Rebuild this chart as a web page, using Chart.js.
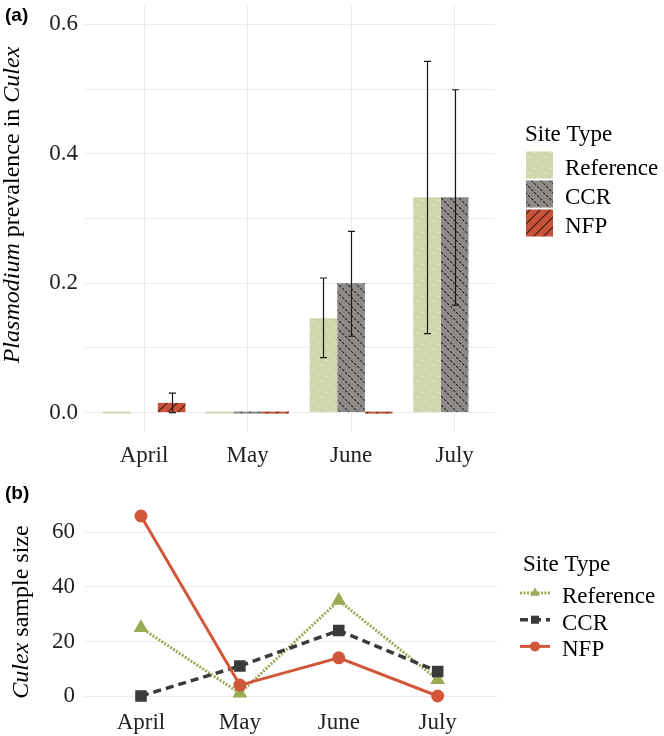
<!DOCTYPE html>
<html>
<head>
<meta charset="utf-8">
<script src="https://cdn.jsdelivr.net/npm/chart.js@4.4.1/dist/chart.umd.min.js"></script>
<style>
  html, body { margin: 0; padding: 0; background: #fff; }
  #wrap { position: relative; width: 664px; height: 736px; }
  canvas { position: absolute; left: 0; }
  #prevChart { top: 0; }
  #sizeChart { top: 470px; }
</style>
</head>
<body>
<div id="wrap">
  <canvas id="prevChart" width="664" height="470"></canvas>
  <canvas id="sizeChart" width="664" height="266"></canvas>
</div>
<script>
const months = ['April', 'May', 'June', 'July'];
const legendTitle = 'Site Type';

// (a) Plasmodium prevalence, null = no mosquitoes caught
const prevReference = [0, 0, 0.146, 0.333];
const prevCCR = [null, 0, 0.2, 0.333];
const prevNFP = [0.015, 0, 0, null];
const lowReference = [null, null, 0.085, 0.122];
const highReference = [null, null, 0.208, 0.543];
const lowCCR = [null, null, 0.118, 0.166];
const highCCR = [null, null, 0.280, 0.499];
const lowNFP = [0, null, null, null];
const highNFP = [0.030, null, null, null];
const prevTicks = [0, 0.2, 0.4, 0.6];

// (b) Culex sample size
const sizeReference = [25, 1, 35, 6];
const sizeCCR = [0, 11, 24, 9];
const sizeNFP = [66, 4, 14, 0];
const sizeTicks = [0, 20, 40, 60];

const serif = '"Liberation Serif", "Times New Roman", serif';
const tickFont = { family: serif, size: 23 };
const gridColor = '#ebebeb';

const toXY = arr => arr.map((v, i) => ({ x: i + 1, y: v }));

// keep chart area exactly where layout padding puts it
const fixWidth = w => s => { s.width = w; s.paddingTop = 0; s.paddingBottom = 0; };
const fixHeight = h => s => { s.height = h; s.paddingLeft = 0; s.paddingRight = 0; };

function makePattern(size, draw) {
    const c = document.createElement('canvas');
    c.width = c.height = size;
    const g = c.getContext('2d');
    draw(g, size);
    return g.createPattern(c, 'repeat');
}

const patReference = makePattern(16, (g, s) => {
    g.fillStyle = '#d0d6ac';
    g.fillRect(0, 0, s, s);
    g.fillStyle = 'rgba(250,250,235,0.85)';
    [[2, 3], [9, 1], [6, 8], [12, 11], [3, 13], [14, 5]].forEach(p => g.fillRect(p[0], p[1], 1, 1));
});
const patCCR = makePattern(9, (g, s) => {
    g.fillStyle = '#8e8a88';
    g.fillRect(0, 0, s, s);
    g.fillStyle = '#2a2a2a';
    for (let k = 0; k < s; k++) {
        if (k % 3 !== 2) g.fillRect(k, k, 1.2, 1.2);
    }
});
const patNFP = makePattern(10, (g, s) => {
    g.fillStyle = '#c8523a';
    g.fillRect(0, 0, s, s);
    g.strokeStyle = '#3d1a12';
    g.lineWidth = 1.1;
    [-s, 0, s].forEach(o => {
        g.beginPath();
        g.moveTo(o - 1, s + 1);
        g.lineTo(o + s + 1, -1);
        g.stroke();
    });
});

const errorBars = {
    id: 'errorBars',
    afterDatasetsDraw(chart) {
        const ctx = chart.ctx;
        const y = chart.scales.y;
        ctx.save();
        ctx.strokeStyle = '#1a1a1a';
        ctx.lineWidth = 1.2;
        chart.data.datasets.forEach((ds, d) => {
            if (!ds.errLow) return;
            const meta = chart.getDatasetMeta(d);
            ds.errLow.forEach((lo, i) => {
                const hi = ds.errHigh[i];
                if (lo == null || hi == null || !meta.data[i]) return;
                const x = Math.round(meta.data[i].x) + 0.5;
                const y0 = y.getPixelForValue(lo);
                const y1 = y.getPixelForValue(hi);
                ctx.beginPath();
                ctx.moveTo(x, y0); ctx.lineTo(x, y1);
                ctx.moveTo(x - 3.5, y0); ctx.lineTo(x + 3.5, y0);
                ctx.moveTo(x - 3.5, y1); ctx.lineTo(x + 3.5, y1);
                ctx.stroke();
            });
        });
        ctx.restore();
    }
};

function drawMarker(ctx, style, x, y, r, color) {
    ctx.fillStyle = color;
    ctx.beginPath();
    if (style === 'triangle') {
        let a = 0;
        ctx.moveTo(x + Math.sin(a) * r, y - Math.cos(a) * r);
        a += 2 * Math.PI / 3;
        ctx.lineTo(x + Math.sin(a) * r, y - Math.cos(a) * r);
        a += 2 * Math.PI / 3;
        ctx.lineTo(x + Math.sin(a) * r, y - Math.cos(a) * r);
        ctx.closePath();
    } else if (style === 'rect') {
        const h = Math.SQRT1_2 * r;
        ctx.rect(x - h, y - h, 2 * h, 2 * h);
    } else {
        ctx.arc(x, y, r, 0, Math.PI * 2);
    }
    ctx.fill();
}

const decor = {
    id: 'decor',
    afterDraw(chart, args, opts) {
        const ctx = chart.ctx;
        ctx.save();
        ctx.fillStyle = '#000';
        ctx.textAlign = 'left';
        ctx.textBaseline = 'alphabetic';
        ctx.font = 'bold 19px "Liberation Sans", Arial, sans-serif';
        ctx.fillText(opts.tag, 5, opts.tagY);

        // y title with italic genus names
        ctx.save();
        ctx.translate(opts.titleX, opts.titleY);
        ctx.rotate(-Math.PI / 2);
        const fontOf = p => (p.italic ? 'italic ' : '') + '24px ' + serif;
        let w = 0;
        opts.title.forEach(p => { ctx.font = fontOf(p); w += ctx.measureText(p.text).width; });
        let tx = -w / 2;
        opts.title.forEach(p => {
            ctx.font = fontOf(p);
            ctx.fillText(p.text, tx, 0);
            tx += ctx.measureText(p.text).width;
        });
        ctx.restore();

        // legend
        ctx.font = '23px ' + serif;
        ctx.fillText(legendTitle, opts.legendX, opts.legendTitleY);
        chart.data.datasets.forEach((ds, i) => {
            const cy = opts.legendY0 + i * opts.legendStep;
            if (opts.keyType === 'box') {
                ctx.fillStyle = ds.backgroundColor;
                ctx.fillRect(opts.keyX, cy - 13.5, 27, 27);
            } else {
                ctx.save();
                ctx.strokeStyle = ds.borderColor;
                ctx.lineWidth = ds.borderWidth;
                ctx.setLineDash(ds.borderDash || []);
                ctx.beginPath();
                ctx.moveTo(opts.keyX, cy);
                ctx.lineTo(opts.keyX + 30, cy);
                ctx.stroke();
                ctx.restore();
                drawMarker(ctx, ds.pointStyle, opts.keyX + 15, cy, ds.pointRadius, ds.borderColor);
            }
            ctx.fillStyle = '#000';
            ctx.font = '23px ' + serif;
            ctx.fillText(ds.label, opts.labelX, cy + 10);
        });
        ctx.restore();
    }
};

// panel (a): prevalence bars
new Chart(document.getElementById('prevChart'), {
    type: 'bar',
    data: {
        datasets: [
            { label: 'Reference', data: toXY(prevReference), backgroundColor: patReference, errLow: lowReference, errHigh: highReference },
            { label: 'CCR', data: toXY(prevCCR), backgroundColor: patCCR, errLow: lowCCR, errHigh: highCCR },
            { label: 'NFP', data: toXY(prevNFP), backgroundColor: patNFP, errLow: lowNFP, errHigh: highNFP }
        ]
    },
    options: {
        responsive: false,
        animation: false,
        categoryPercentage: 0.8,
        barPercentage: 1,
        minBarLength: 2,
        borderWidth: 0,
        layout: { padding: { top: 5, right: 169, left: 0, bottom: 0 } },
        scales: {
            x: {
                type: 'linear', min: 0.43, max: 4.39, offset: false,
                afterFit: fixHeight(38),
                grid: { color: gridColor, drawTicks: false, offset: false },
                border: { display: false },
                ticks: { stepSize: 1, includeBounds: false, padding: 10, font: tickFont, color: '#222',
                    callback: v => months[v - 1] || '' }
            },
            y: {
                min: -0.03, max: 0.63,
                afterFit: fixWidth(85),
                grid: { color: gridColor, drawTicks: false },
                border: { display: false },
                ticks: { stepSize: 0.1, includeBounds: false, padding: 7, font: tickFont, color: '#222',
                    callback: v => prevTicks.some(t => Math.abs(t - v) < 1e-6) ? v.toFixed(1) : '' }
            }
        },
        plugins: {
            legend: { display: false },
            tooltip: { enabled: false },
            decor: {
                tag: '(a)', tagY: 21,
                titleX: 19, titleY: 205,
                title: [{ text: 'Plasmodium', italic: true }, { text: ' prevalence in ', italic: false }, { text: 'Culex', italic: true }],
                keyType: 'box', keyX: 526, labelX: 565,
                legendX: 525, legendTitleY: 141, legendY0: 165, legendStep: 29
            }
        }
    },
    plugins: [errorBars, decor]
});

// panel (b): sample sizes
new Chart(document.getElementById('sizeChart'), {
    type: 'line',
    data: {
        datasets: [
            { label: 'Reference', data: toXY(sizeReference), borderColor: '#9aab56', backgroundColor: '#9aab56',
              borderWidth: 3, borderDash: [2, 1.5], pointStyle: 'triangle', pointRadius: 5.5, order: 3 },
            { label: 'CCR', data: toXY(sizeCCR), borderColor: '#3a3a3a', backgroundColor: '#3a3a3a',
              borderWidth: 3.5, borderDash: [8, 5], pointStyle: 'rect', pointRadius: 5.7, order: 2 },
            { label: 'NFP', data: toXY(sizeNFP), borderColor: '#d1573b', backgroundColor: '#d1573b',
              borderWidth: 3, pointStyle: 'circle', pointRadius: 5, order: 1 }
        ]
    },
    options: {
        responsive: false,
        animation: false,
        clip: false,
        elements: { point: { borderWidth: 0 }, line: { tension: 0 } },
        layout: { padding: { top: 37, right: 167, left: 0, bottom: 0 } },
        scales: {
            x: {
                type: 'linear', min: 0.434, max: 4.6,
                afterFit: fixHeight(31),
                grid: { display: false },
                border: { display: false },
                ticks: { stepSize: 1, includeBounds: false, padding: -4, font: tickFont, color: '#222',
                    callback: v => months[v - 1] || '' }
            },
            y: {
                min: -3.3, max: 69.3,
                afterFit: fixWidth(85),
                grid: { color: gridColor, drawTicks: false },
                border: { display: false },
                ticks: { stepSize: 20, includeBounds: false, padding: 10, font: tickFont, color: '#222',
                    callback: v => sizeTicks.includes(v) ? String(v) : '' }
            }
        },
        plugins: {
            legend: { display: false },
            tooltip: { enabled: false },
            decor: {
                tag: '(b)', tagY: 29,
                titleX: 28, titleY: 142,
                title: [{ text: 'Culex', italic: true }, { text: ' sample size', italic: false }],
                keyType: 'line', keyX: 520, labelX: 562,
                legendX: 523, legendTitleY: 101, legendY0: 123, legendStep: 26.7
            }
        }
    },
    plugins: [decor]
});
</script>
</body>
</html>
